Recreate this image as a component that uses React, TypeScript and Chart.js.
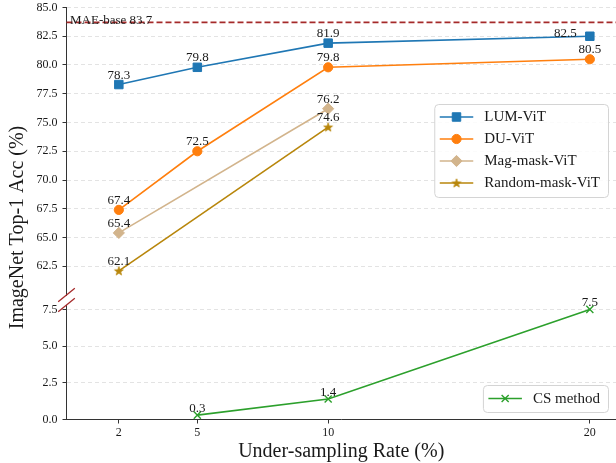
import React, { useEffect, useRef } from 'react';
import { Chart, registerables } from 'chart.js';
import { drawPoint } from 'chart.js/helpers';

Chart.register(...registerables);

// ---------------- data ----------------
const xRates = [2, 5, 10, 20];
const lumVit = [78.3, 79.8, 81.9, 82.5];
const duVit = [67.4, 72.5, 79.8, 80.5];
const magMaskVit = [65.4, null, 76.2, null];
const randomMaskVit = [62.1, null, 74.6, null];
const csMethod = [null, 0.3, 1.4, 7.5];
const seriesNames = ['LUM-ViT', 'DU-ViT', 'Mag-mask-ViT', 'Random-mask-ViT', 'CS method'];
const maeBase = 83.7;
const maeLabel = 'MAE-base 83.7';
const topTicks = [62.5, 65, 67.5, 70, 72.5, 75, 77.5, 80, 82.5, 85];
const bottomTicks = [0, 2.5, 5, 7.5];
const xTicks = [2, 5, 10, 20];
const xTitle = 'Under-sampling Rate (%)';
const yTitle = 'ImageNet Top-1 Acc (%)';

const SERIF = "'Liberation Serif', 'Times New Roman', serif";
const TEXT = '#1a1a1a';
const SPINE = '#333333';
const BREAK = '#a52a2a';

function makeStar(color: string, r: number) {
  const size = Math.ceil(r * 2 + 2);
  const c = document.createElement('canvas');
  c.width = size;
  c.height = size;
  const ctx = c.getContext('2d')!;
  const cx = size / 2;
  const cy = size / 2 + 0.4;
  ctx.beginPath();
  for (let i = 0; i < 10; i++) {
    const rad = i % 2 === 0 ? r : r * 0.4;
    const a = -Math.PI / 2 + (i * Math.PI) / 5;
    const px = cx + rad * Math.cos(a);
    const py = cy + rad * Math.sin(a);
    if (i === 0) ctx.moveTo(px, py);
    else ctx.lineTo(px, py);
  }
  ctx.closePath();
  ctx.fillStyle = color;
  ctx.fill();
  ctx.strokeStyle = color;
  ctx.lineWidth = 0.8;
  ctx.stroke();
  return c;
}

export default function App() {
  const ref = useRef<HTMLCanvasElement>(null);

  useEffect(() => {
    const star = makeStar('#b8860b', 4.6);
    const seriesValues = [lumVit, duVit, magMaskVit, randomMaskVit, csMethod];
    const styles: any[] = [
      { color: '#1f77b4', pointStyle: 'rect', radius: 6, bw: 1, axis: 'yTop' },
      { color: '#ff7f0e', pointStyle: 'circle', radius: 4.6, bw: 1, axis: 'yTop' },
      { color: '#d2b48c', pointStyle: 'rectRot', radius: 5.6, bw: 1, axis: 'yTop' },
      { color: '#b8860b', pointStyle: star, radius: 5, bw: 0, axis: 'yTop' },
      { color: '#2ca02c', pointStyle: 'crossRot', radius: 5, bw: 1.4, axis: 'yBot' },
    ];

    const datasets = seriesValues.map((vals, i) => {
      const s = styles[i];
      return {
        label: seriesNames[i],
        data: xRates
          .map((x, j) => ({ x, y: vals[j] as number | null }))
          .filter((p) => p.y !== null),
        yAxisID: s.axis,
        borderColor: s.color,
        backgroundColor: s.color,
        borderWidth: 1.6,
        pointStyle: s.pointStyle,
        pointRadius: s.radius,
        pointBackgroundColor: s.color,
        pointBorderColor: s.color,
        pointBorderWidth: s.bw,
        tension: 0,
        clip: false as any,
      };
    });

    const labelShift: Record<string, { dx: number; dy: number; align: CanvasTextAlign }> = {
      '0-3': { dx: -13, dy: 1, align: 'right' },
    };

    const decorPlugin = {
      id: 'decor',
      afterDatasetsDraw(chart: any) {
        const ctx = chart.ctx as CanvasRenderingContext2D;
        const area = chart.chartArea;
        const yTop = chart.scales.yTop;
        const yBot = chart.scales.yBot;

        // MAE baseline
        const my = yTop.getPixelForValue(maeBase);
        ctx.save();
        ctx.strokeStyle = BREAK;
        ctx.lineWidth = 1.8;
        ctx.setLineDash([6, 3]);
        ctx.beginPath();
        ctx.moveTo(area.left, my);
        ctx.lineTo(area.right, my);
        ctx.stroke();
        ctx.setLineDash([]);
        ctx.fillStyle = TEXT;
        ctx.font = `13px ${SERIF}`;
        ctx.textAlign = 'left';
        ctx.textBaseline = 'alphabetic';
        ctx.fillText(maeLabel, area.left + 3.5, my + 1.5);
        ctx.restore();

        // value labels
        ctx.save();
        ctx.font = `13px ${SERIF}`;
        ctx.fillStyle = TEXT;
        ctx.textBaseline = 'alphabetic';
        chart.data.datasets.forEach((ds: any, i: number) => {
          const meta = chart.getDatasetMeta(i);
          const isBot = ds.yAxisID === 'yBot';
          meta.data.forEach((el: any, j: number) => {
            const v = ds.data[j].y as number;
            const key = `${i}-${xRates.indexOf(ds.data[j].x)}`;
            const sh = labelShift[key];
            if (sh) {
              ctx.textAlign = sh.align;
              ctx.fillText(v.toFixed(1), el.x + sh.dx, el.y + sh.dy);
            } else {
              ctx.textAlign = 'center';
              ctx.fillText(v.toFixed(1), el.x, el.y - (isBot ? 3 : 6));
            }
          });
        });
        ctx.restore();

        // axis break marks
        ctx.save();
        ctx.strokeStyle = BREAK;
        ctx.lineWidth = 1.3;
        [yTop.bottom, yBot.top].forEach((cy: number) => {
          ctx.beginPath();
          ctx.moveTo(area.left - 8.3, cy + 6.7);
          ctx.lineTo(area.left + 8.3, cy - 6.7);
          ctx.stroke();
        });
        ctx.restore();

        // axis titles
        ctx.save();
        ctx.fillStyle = TEXT;
        ctx.font = `20px ${SERIF}`;
        ctx.textAlign = 'center';
        ctx.textBaseline = 'middle';
        ctx.fillText(xTitle, (area.left + area.right) / 2, 451.5);
        ctx.translate(18, 227.5);
        ctx.rotate(-Math.PI / 2);
        ctx.fillText(yTitle, 0, 0);
        ctx.restore();

        // legends
        const groups = [
          { idx: [0, 1, 2, 3], anchor: 'top' },
          { idx: [4], anchor: 'bottom' },
        ];
        ctx.save();
        ctx.font = `15px ${SERIF}`;
        groups.forEach((g) => {
          const maxW = Math.max(...g.idx.map((i) => ctx.measureText(chart.data.datasets[i].label).width));
          const w = 50 + maxW + 8;
          const rowH = 22;
          const h = g.idx.length * rowH + 5;
          const right = area.right - 8;
          const left = right - w;
          const top = g.anchor === 'top' ? 104 : area.bottom - 7.5 - 27;
          const hh = g.anchor === 'top' ? h : 27;
          ctx.save();
          ctx.beginPath();
          (ctx as any).roundRect(left + 0.5, top + 0.5, w, hh, 4);
          ctx.fillStyle = 'rgba(255,255,255,0.85)';
          ctx.fill();
          ctx.strokeStyle = '#d4d4d4';
          ctx.lineWidth = 1;
          ctx.stroke();
          ctx.restore();
          g.idx.forEach((i, k) => {
            const ds = chart.data.datasets[i];
            const cy = g.anchor === 'top' ? top + 13 + k * rowH : top + 13.5;
            const x0 = left + 5.5;
            const x1 = left + 39;
            ctx.save();
            ctx.strokeStyle = ds.borderColor;
            ctx.lineWidth = 1.6;
            ctx.beginPath();
            ctx.moveTo(x0, cy);
            ctx.lineTo(x1, cy);
            ctx.stroke();
            ctx.fillStyle = ds.pointBackgroundColor;
            ctx.strokeStyle = ds.pointBorderColor;
            ctx.lineWidth = ds.pointBorderWidth;
            drawPoint(ctx, { pointStyle: ds.pointStyle, radius: ds.pointRadius, rotation: 0, borderWidth: ds.pointBorderWidth } as any, (x0 + x1) / 2, cy);
            ctx.restore();
            ctx.fillStyle = TEXT;
            ctx.textAlign = 'left';
            ctx.textBaseline = 'middle';
            ctx.fillText(ds.label, left + 50, cy + 0.5);
          });
        });
        ctx.restore();
      },
    };

    const yCommon = (ticksArr: number[]) => ({
      type: 'linear' as const,
      position: 'left' as const,
      stack: 'y',
      afterBuildTicks: (s: any) => {
        s.ticks = ticksArr.map((v) => ({ value: v }));
      },
      afterFit: (s: any) => {
        s.width = 46;
        s.paddingTop = 0;
        s.paddingBottom = 0;
      },
      grid: {
        color: '#dcdcdc',
        lineWidth: 0.8,
        drawTicks: true,
        tickLength: 4,
        tickColor: SPINE,
        tickWidth: 1,
      },
      border: { display: true, color: SPINE, width: 1, dash: [4, 3] },
      ticks: {
        font: { family: SERIF, size: 12 },
        color: TEXT,
        padding: 5,
        callback: (v: any) => Number(v).toFixed(1),
      },
    });

    const chart = new Chart(ref.current!, {
      type: 'line',
      data: { datasets: datasets as any },
      options: {
        animation: false,
        responsive: false,
        devicePixelRatio: 1,
        layout: { autoPadding: false, padding: { left: 20.5, top: 7.5, right: 0, bottom: 0 } },
        plugins: { legend: { display: false }, tooltip: { enabled: false }, title: { display: false } },
        scales: {
          x: {
            type: 'linear',
            position: 'bottom',
            min: 0,
            max: 21,
            afterBuildTicks: (s: any) => {
              s.ticks = xTicks.map((v) => ({ value: v }));
            },
            afterFit: (s: any) => {
              s.height = 43.5;
              s.paddingLeft = 0;
              s.paddingRight = 0;
            },
            grid: { drawOnChartArea: false, drawTicks: true, tickLength: 4, tickColor: SPINE, color: SPINE },
            border: { display: true, color: SPINE, width: 1 },
            ticks: {
              font: { family: SERIF, size: 12 },
              color: TEXT,
              padding: 2,
              autoSkip: false,
              maxRotation: 0,
              callback: (v: any) => String(v),
            },
          },
          yBot: { ...yCommon(bottomTicks), min: 0, max: 7.8, stackWeight: 114.5, weight: 1 },
          ySpacer: {
            type: 'linear',
            position: 'left',
            stack: 'y',
            stackWeight: 10,
            weight: 2,
            display: true,
            afterFit: (s: any) => {
              s.width = 46;
              s.paddingTop = 0;
              s.paddingBottom = 0;
            },
            grid: { display: false, drawTicks: false },
            border: { display: false },
            ticks: { display: false },
          },
          yTop: { ...yCommon(topTicks), min: 60, max: 85, stackWeight: 287.5, weight: 3 },
        } as any,
      },
      plugins: [decorPlugin],
    });
    return () => chart.destroy();
  }, []);

  return (
    <div style={{ position: 'absolute', left: 0, top: 0, width: 616, height: 463, background: '#fff' }}>
      <canvas ref={ref} width={616} height={463} style={{ display: 'block', width: 616, height: 463 }} />
    </div>
  );
}
